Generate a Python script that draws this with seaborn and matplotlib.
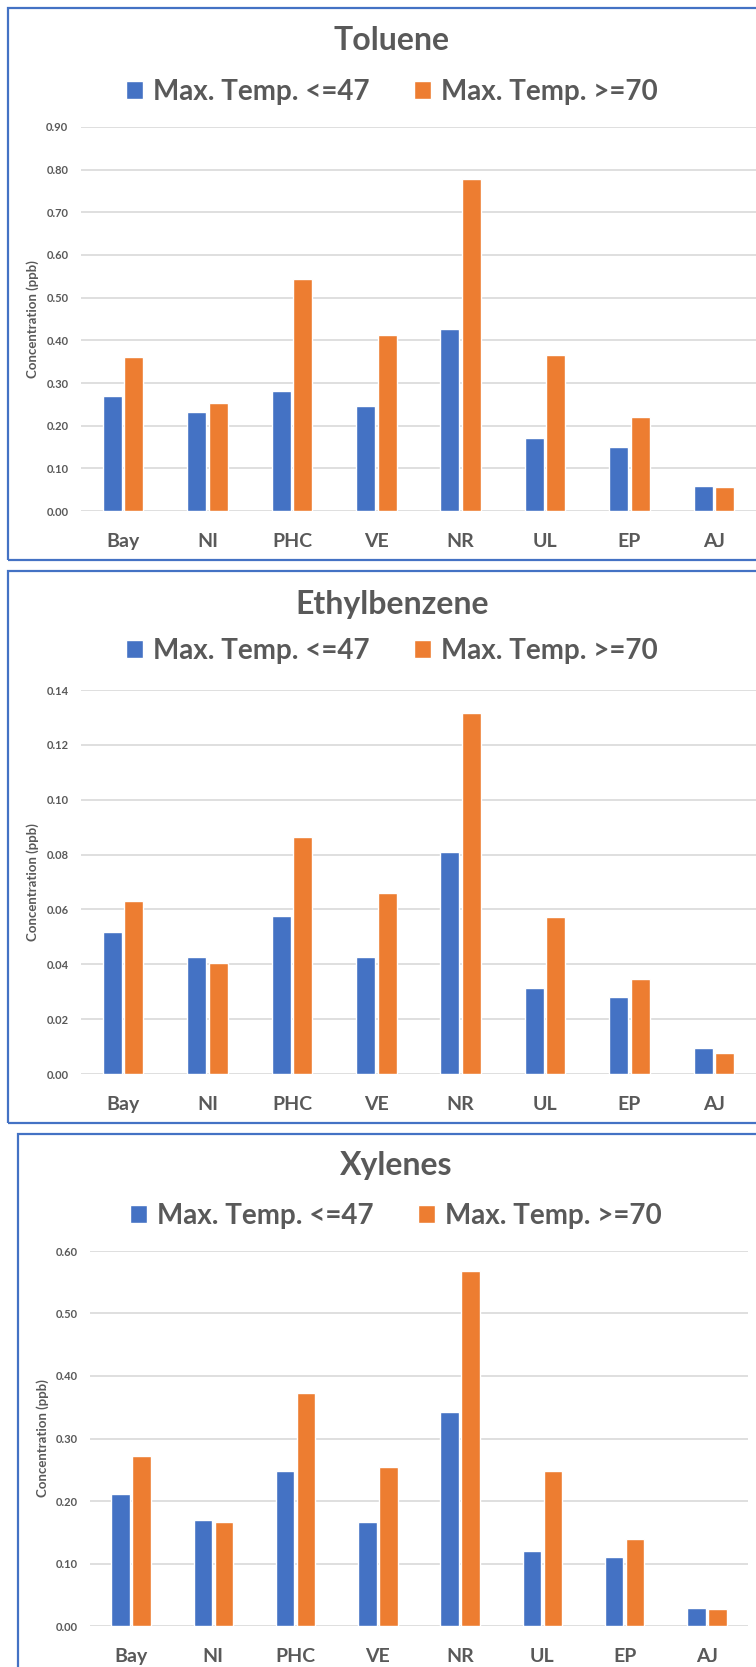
import pandas as pd
import matplotlib.pyplot as plt
import seaborn as sns
from matplotlib.patches import Rectangle
from matplotlib.ticker import MultipleLocator, FormatStrFormatter

# data
sites = ['Bay', 'NI', 'PHC', 'VE', 'NR', 'UL', 'EP', 'AJ']
groups = ['Max. Temp. <=47', 'Max. Temp. >=70']

toluene_low = [0.270, 0.232, 0.281, 0.246, 0.426, 0.172, 0.151, 0.059]
toluene_high = [0.361, 0.254, 0.543, 0.412, 0.779, 0.365, 0.221, 0.056]
ethyl_low = [0.0519, 0.0428, 0.0577, 0.0425, 0.0811, 0.0315, 0.0282, 0.0096]
ethyl_high = [0.0632, 0.0406, 0.0863, 0.0659, 0.1315, 0.0574, 0.0345, 0.0075]
xylene_low = [0.211, 0.170, 0.248, 0.167, 0.343, 0.1205, 0.110, 0.029]
xylene_high = [0.2725, 0.166, 0.373, 0.255, 0.568, 0.248, 0.140, 0.027]

BLUE = '#4472C4'
ORANGE = '#ED7D31'
GREY = '#595959'
GRID = '#d9d9d9'

W, H = 756, 1667

sns.set_theme(style="white")
plt.rcParams['font.family'] = ['Lato', 'DejaVu Sans']

fig = plt.figure(figsize=(W / 100, H / 100), dpi=100)


def px_rect(left, top, right, bottom):
    return [left / W, 1 - bottom / H, (right - left) / W, (bottom - top) / H]


# title, low, high, ymax, step, fmt, plot box (l, t, r, b), title y, legend y, centre x, ylabel x, frame (l, t, b)
panels = [
    ('Toluene', toluene_low, toluene_high, 0.90, 0.10, '%.2f',
     (81, 127, 756, 511), 40, 92, 392, 33, (8, 8, 560)),
    ('Ethylbenzene', ethyl_low, ethyl_high, 0.14, 0.02, '%.2f',
     (81, 690, 756, 1074), 604, 651, 392, 33, (8, 571, 1123)),
    ('Xylenes', xylene_low, xylene_high, 0.60, 0.10, '%.2f',
     (90, 1251, 748, 1626), 1166, 1216, 396, 43, (18, 1134, 1700)),
]

for title, low, high, ymax, step, fmt, box, ty, ly, cx, ylx, frame in panels:
    df = pd.DataFrame({
        'site': sites * 2,
        'group': [groups[0]] * len(sites) + [groups[1]] * len(sites),
        'value': low + high,
    })
    ax = fig.add_axes(px_rect(*box))
    sns.barplot(data=df, x='site', y='value', hue='group', palette=[BLUE, ORANGE],
                saturation=1, width=0.51, gap=0.12, errorbar=None, ax=ax)

    ax.set_ylim(0, ymax)
    ax.set_xlim(-0.5, len(sites) - 0.5)
    ax.yaxis.set_major_locator(MultipleLocator(step))
    ax.yaxis.set_major_formatter(FormatStrFormatter(fmt))
    ax.grid(axis='y', color=GRID, linewidth=1.2)
    ax.set_axisbelow(True)
    for s in ax.spines.values():
        s.set_visible(False)
    ax.tick_params(axis='y', length=0, pad=9, labelsize=8, labelcolor=GREY)
    ax.tick_params(axis='x', length=0, pad=16, labelsize=14, labelcolor=GREY)
    for lab in ax.get_xticklabels() + ax.get_yticklabels():
        lab.set_fontweight('bold')
    ax.set_xlabel('')
    ax.set_ylabel('')

    # legend above the plot
    handles, labels = ax.get_legend_handles_labels()
    ax.legend(handles, labels, loc='center', bbox_to_anchor=(cx / W, 1 - ly / H),
              bbox_transform=fig.transFigure, ncol=2, frameon=False,
              prop={'weight': 'bold', 'size': 20}, labelcolor=GREY,
              handlelength=0.62, handleheight=0.62, handletextpad=0.35,
              columnspacing=1.6)

    fig.text(cx / W, 1 - ty / H, title, ha='center', va='center',
             fontsize=23, fontweight='bold', color=GREY)
    fig.text(ylx / W, 1 - ((box[1] + box[3]) / 2) / H, 'Concentration (ppb)',
             rotation=90, ha='center', va='center', fontsize=9.5,
             fontweight='bold', color=GREY)

    # blue frame around each chart
    fl, ft, fb = frame
    fig.add_artist(Rectangle((fl / W, 1 - fb / H), (W + 20 - fl) / W, (fb - ft) / H,
                             transform=fig.transFigure, fill=False,
                             edgecolor=BLUE, linewidth=1.6))

fig.savefig('out.png', dpi=100)
